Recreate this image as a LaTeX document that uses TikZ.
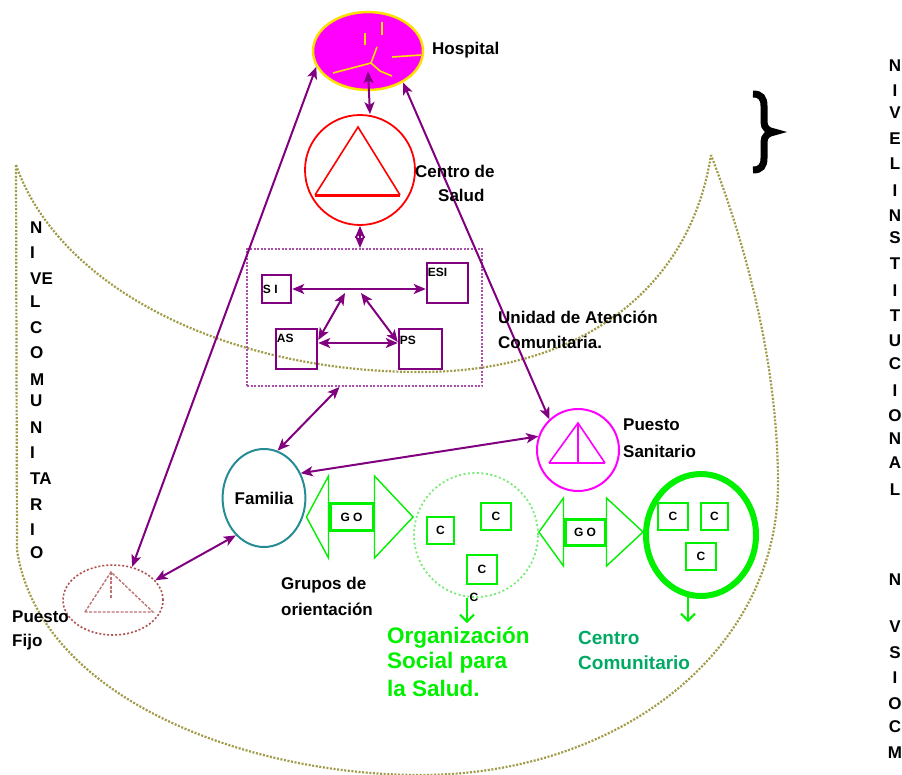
\documentclass[tikz,border=0pt]{standalone}
\usepackage{fontspec}
\setmainfont{Liberation Sans}
\usetikzlibrary{arrows.meta,calc,shapes.geometric}

\definecolor{lnk}{RGB}{128,0,128}
\definecolor{boxdot}{RGB}{170,80,170}
\definecolor{magen}{RGB}{255,0,255}
\definecolor{hyell}{RGB}{255,225,0}
\definecolor{olivel}{RGB}{160,155,70}
\definecolor{gr}{RGB}{0,240,0}
\definecolor{lgr}{RGB}{120,235,120}
\definecolor{tealc}{RGB}{40,140,150}
\definecolor{fijoc}{RGB}{175,80,80}
\definecolor{ccol}{RGB}{0,170,100}

\newcommand\lblfnt{\fontsize{17}{19}\selectfont\bfseries}
\newcommand\boxfnt{\fontsize{12}{14}\selectfont\bfseries}
\newcommand\grnfnt{\fontsize{22.5}{24}\selectfont\bfseries}
\newcommand\ccfnt{\fontsize{19}{22}\selectfont\bfseries}

\begin{document}
\begin{tikzpicture}[x=1pt,y=-1pt,
  link/.style={draw=lnk, line width=2pt,
    {Stealth[length=12pt,width=10pt,inset=3pt]}-{Stealth[length=12pt,width=10pt,inset=3pt]}},
  txt/.style={font=\lblfnt, inner sep=0pt, anchor=west},
  pbox/.style={draw=lnk, line width=2.5pt, inner sep=0pt},
  plabel/.style={font=\boxfnt, inner sep=2pt},
  cbox/.style={draw=gr, line width=2.5pt, inner sep=0pt, font=\boxfnt},
  bowl/.style={draw=olivel, line width=2.2pt, dash pattern=on 2pt off 1.6pt},
  gline/.style={draw=gr, line width=1.4pt},
  gobox/.style={draw=gr, line width=3pt, inner sep=0pt, font=\boxfnt},
  garrow/.style={draw=gr, line width=2pt, -{Straight Barb[length=7pt,width=14pt]}},
]
\fill[white] (0,0) rectangle (902,774);
\useasboundingbox (0,0) rectangle (902,774);

% the two levels: community bowl and its upper rim
\draw[bowl] (16,165) .. controls (60,290) and (230,372) .. (420,372)
            .. controls (580,372) and (690,290) .. (711,155);
\draw[bowl] (16,165) -- (17,550) .. controls (40,700) and (250,775) .. (420,775)
            .. controls (620,775) and (780,650) .. (778,480)
            .. controls (777,350) and (740,230) .. (711,155);

% institutional facilities
\node[ellipse, fill=magen, draw=hyell, line width=2.5pt, minimum width=110pt,
      minimum height=78pt, inner sep=0pt] (hospital) at (368,51) {};
\begin{scope}[shift={(hospital.center)}, line width=1.6pt]
  \draw[hyell] (14,-29) -- (14,-16);
  \draw[hyell] (-3,-18) -- (-3,-6);
  \draw[hyell] (9,-4) -- (3,12) -- (-35,22);
  \draw[hyell] (3,12) -- (12,20) -- (24,25);
  \draw[hyell] (24,6) -- (53,4);
\end{scope}

\node[circle, draw=red, line width=1.8pt, minimum size=110pt, inner sep=0pt]
  (salud) at (360,170) {};
\begin{scope}[shift={(salud.center)}]
  \draw[red, line width=1.6pt] (-45,25) -- (-2,-43) -- (40,25);
  \draw[red, line width=3pt] (-45,25) -- (40,25);
\end{scope}

% community care unit
\node[draw=boxdot, line width=2pt, dash pattern=on 2pt off 1.5pt,
      minimum width=235pt, minimum height=137pt, inner sep=0pt] (uac) at (364.5,317.5) {};
\node[pbox, minimum width=29pt, minimum height=28pt,
      label={[plabel, anchor=west]west:S I}] (si) at (276.5,289) {};
\node[pbox, minimum width=41pt, minimum height=40pt,
      label={[plabel, anchor=north west, yshift=-4pt]north west:ESI}] (esi) at (447.5,283) {};
\node[pbox, minimum width=41pt, minimum height=40pt,
      label={[plabel, anchor=north west, yshift=-4pt]north west:AS}] (as) at (296.5,349) {};
\node[pbox, minimum width=43pt, minimum height=40pt,
      label={[plabel, anchor=north west, yshift=-6pt]north west:PS}] (ps) at (420.5,349) {};
\coordinate (apexL) at (345,293);
\coordinate (apexR) at (361,293);

% family and health posts
\node[ellipse, draw=tealc, line width=2pt, minimum width=82pt, minimum height=98pt,
      inner sep=0pt, font=\lblfnt] (familia) at (264,498) {Familia};
\node[circle, draw=magen, line width=2pt, minimum size=82pt, inner sep=0pt]
  (sanitario) at (578,450) {};
\begin{scope}[shift={(sanitario.center)}]
  \draw[magen, line width=1.6pt] (-29,13) -- (0,-27) -- (27,13);
  \draw[magen, line width=2.5pt] (-29,13) -- (27,13);
  \draw[magen, line width=1.6pt] (0,-27) -- (0,13);
\end{scope}
\node[ellipse, draw=fijoc, line width=1.6pt, dash pattern=on 2pt off 2pt,
      minimum width=100pt, minimum height=70pt, inner sep=0pt] (fijo) at (113,600) {};
\begin{scope}[shift={(fijo.center)}, fijoc!80, line width=1.4pt, dash pattern=on 3pt off 1.5pt]
  \draw (-28,12) -- (-2,-28) -- (40,12) -- cycle;
  \draw (-2,-28) -- (-2,-2);
\end{scope}

% social organisation and community centre
\node[circle, draw=lgr, line width=1.8pt, dash pattern=on 2pt off 2.5pt,
      minimum size=124pt, inner sep=0pt] (oss) at (476,535) {};
\node[cbox, minimum width=27pt, minimum height=27pt] (c1) at (440.5,530.5) {C};
\node[cbox, minimum width=30pt, minimum height=27pt] (c2) at (496,516.5) {C};
\node[cbox, minimum width=30pt, minimum height=29pt] (c3) at (482,569.5) {C};
\node[font=\boxfnt, inner sep=0pt] (cx) at (474,597) {C};

\node[ellipse, draw=gr, line width=6pt, minimum width=110pt, minimum height=122pt,
      inner sep=0pt] (cc) at (701,535) {};
\node[cbox, minimum width=30pt, minimum height=27pt] (c4) at (673,516.5) {C};
\node[cbox, minimum width=27pt, minimum height=27pt] (c5) at (714.5,516.5) {C};
\node[cbox, minimum width=30pt, minimum height=27pt] (c6) at (701,556.5) {C};

% orientation groups as double arrows
\node[gobox, minimum width=43pt, minimum height=27pt] (go1) at (351.5,517) {G O};
\draw[gline] (go1.west -| familia.east) -- ([yshift=41pt]go1.west) -- ([yshift=-41pt]go1.west) -- cycle;
\draw[gline] (go1.east -| oss.west) -- ([yshift=41pt]go1.east) -- ([yshift=-41pt]go1.east) -- cycle;
\node[gobox, minimum width=40pt, minimum height=26pt] (go2) at (585,532) {G O};
\draw[gline] (go2.west -| oss.east) -- ([yshift=34pt]go2.west) -- ([yshift=-34pt]go2.west) -- cycle;
\draw[gline] (go2.east -| cc.west) -- ([yshift=34pt]go2.east) -- ([yshift=-34pt]go2.east) -- cycle;

\coordinate (ossdown) at (467,623);
\coordinate (ccdown) at (688,622);
\draw[garrow] (oss.south -| ossdown) -- (ossdown);
\draw[garrow] ([yshift=3pt]cc.south -| ccdown) -- (ccdown);

% links
\draw[link] ([xshift=10pt]salud.north) -- ([yshift=20pt]hospital.south);
\draw[link] (hospital.197) -- (fijo.60);
\draw[link] (hospital.-42) -- (sanitario.133);
\draw[link] (salud.south) -- (salud.south |- uac.north);
\draw[link] ([xshift=-25pt]uac.south) -- (familia.74);
\draw[link] (familia.34) -- (sanitario.161);
\draw[link] (familia.233) -- (fijo.25);
\draw[link] (si.east) -- (si.east -| esi.west);
\draw[link] ([yshift=6pt]as.east) -- ([yshift=6pt]as.east -| ps.west);
\draw[link] (apexL) -- ([yshift=9pt]as.east);
\draw[link] (apexR) -- ([yshift=7pt]ps.west);

% labels
\node[txt] (lhosp) at (432,50) {Hospital};
\node[txt] (lsal1) at (415,171) {Centro de};
\node[txt] (lsal2) at (438,195) {Salud};
\node[txt] (luac1) at (498,317) {Unidad de Atención};
\node[txt] (luac2) at (498,342) {Comunitaria.};
\node[txt] (lps1) at (623,425) {Puesto};
\node[txt] (lps2) at (623,451) {Sanitario};
\node[txt] (lgo1) at (281,585) {Grupos de};
\node[txt] (lgo2) at (281,609) {orientación};
\node[txt] (lpf1) at (12,617) {Puesto};
\node[txt] (lpf2) at (12,642) {Fijo};
\node[txt, font=\grnfnt, text=gr] (loss1) at (387,638) {Organización};
\node[txt, font=\grnfnt, text=gr] (loss2) at (387,663) {Social para};
\node[txt, font=\grnfnt, text=gr] (loss3) at (387,688) {la Salud.};
\node[txt, font=\ccfnt, text=ccol] (lcc1) at (578,638) {Centro};
\node[txt, font=\ccfnt, text=ccol] (lcc2) at (578,663) {Comunitario};

% vertical level captions
\foreach \t/\yy in {N/228, I/253, VE/279, L/302, C/328, O/353, M/380, U/401,
                    N/428, I/453, TA/479, R/505, I/530, O/553}
  \node[txt] (lv\yy) at (30,\yy) {\t};
\foreach \t/\yy in {N/66, I/91, V/113, E/139, L/164, I/191, N/216, S/238, T/264,
                    I/291, T/316, U/341, C/364, I/391, O/416, N/439, A/463, L/490,
                    N/580, V/627, S/653, I/678, O/704, C/727, M/753}
  \node[font=\lblfnt, inner sep=0pt] (rv\yy) at (895,\yy) {\t};

% brace
\draw[line width=7pt, line cap=butt] (753,94) .. controls (761,94) and (764,98) .. (764,106)
  -- (764,122) .. controls (764,128) and (768,131) .. (774,132)
  .. controls (768,133) and (764,136) .. (764,142) -- (764,158)
  .. controls (764,166) and (761,170) .. (753,170);
\end{tikzpicture}
\end{document}
